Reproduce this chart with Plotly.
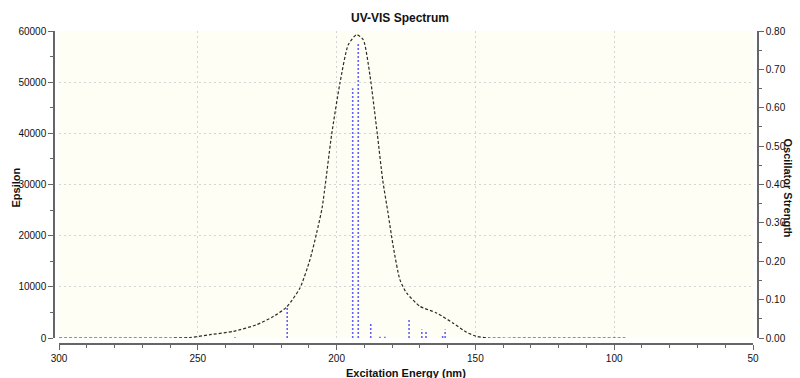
import plotly.graph_objects as go

# Broadened spectrum (wavelength nm, epsilon)
curve_nm = [300, 280, 260, 252.8, 245.6, 237.2, 228.8, 222.8, 218.0, 213.2, 209.6, 207.2,
            205.2, 201.8, 198.8, 195.8, 192.8, 190.4, 188.0, 185.3, 183.4, 181.5, 179.6,
            177.2, 174.8, 170.0, 164.0, 158.0, 153.1, 149.5, 145, 120, 96]
curve_eps = [0, 0, 0, 100, 650, 1300, 2600, 4200, 6050, 9770, 15300, 20500,
             25500, 39700, 49800, 57300, 59270, 58300, 51400, 39700, 30900, 24500, 17900,
             11400, 8800, 6200, 4900, 2900, 1100, 300, 0, 0, 0]

# Individual transitions (wavelength nm, oscillator strength)
bar_nm = [236.6, 217.8, 194.2, 192.2, 187.7, 184.4, 182.6, 173.9, 169.3, 167.8, 161.8, 160.9]
bar_f = [0.002, 0.082, 0.651, 0.771, 0.037, 0.003, 0.003, 0.052, 0.022, 0.019, 0.009, 0.022]

x_ticks = [300, 250, 200, 150, 100, 50]

bx, by = [], []
for n, f in zip(bar_nm, bar_f):
    bx += [n, n, None]
    by += [0, f, None]

fig = go.Figure()
fig.add_trace(go.Scatter(x=bx, y=by, mode="lines", yaxis="y2",
                         line=dict(color="#6262ff", width=1.6, dash="2px,2px"),
                         hoverinfo="skip", showlegend=False))
fig.add_trace(go.Scatter(x=curve_nm, y=curve_eps, mode="lines",
                         line=dict(color="#2a2a2a", width=1.2, dash="3px,2px",
                                   shape="spline", smoothing=0.6),
                         showlegend=False))

font = "Liberation Sans, Arial, sans-serif"
W, H = 800, 378
ml, mr, mt, mb = 54, 42, 31, 34
pw = W - ml - mr
ph = H - mt - mb
off = 5

axis_common = dict(showline=True, linecolor="#666666", linewidth=1.5,
                   ticks="outside", ticklen=5, tickcolor="#666666", tickwidth=1,
                   tickfont=dict(family=font, size=10, color="#111111"),
                   zeroline=False, automargin=False)

grid = dict(showgrid=True, gridcolor="#d4d4d4", griddash="2px,3px", gridwidth=1)

fig.update_layout(
    width=W, height=H,
    margin=dict(l=ml, r=mr, t=mt, b=mb, autoexpand=False),
    paper_bgcolor="white",
    plot_bgcolor="#fffef4",
    title=dict(text="<b>UV-VIS Spectrum</b>", x=0.5, xref="container",
               y=1 - 18 / H, yref="container", yanchor="middle", xanchor="center",
               font=dict(family=font, size=12, color="#111111")),
    xaxis=dict(range=[300, 50], domain=[off / pw, 1 - off / pw],
               anchor="free", position=0,
               tickvals=x_ticks, ticktext=[str(v) for v in x_ticks],
               minor=dict(dtick=10, tick0=0, ticklen=3, ticks="outside",
                          tickcolor="#666666", showgrid=False),
               **grid, **axis_common),
    yaxis=dict(range=[0, 60000], domain=[(off + 1) / ph, 1],
               anchor="free", position=0, dtick=10000, tickformat="d",
               minor=dict(dtick=5000, ticklen=3, ticks="outside",
                          tickcolor="#666666", showgrid=False),
               **grid, **axis_common),
    yaxis2=dict(range=[0, 0.8], overlaying="y", side="right",
                anchor="free", position=1, dtick=0.1, tickformat=".2f",
                showgrid=False,
                minor=dict(dtick=0.05, ticklen=3, ticks="outside",
                           tickcolor="#666666", showgrid=False),
                **axis_common),
    annotations=[
        dict(text="<b>Epsilon</b>", xref="paper", yref="paper", x=0, y=0.5,
             xshift=-39, textangle=-90, showarrow=False,
             xanchor="center", yanchor="middle",
             font=dict(family=font, size=11, color="#111111")),
        dict(text="<b>Oscillator Strength</b>", xref="paper", yref="paper", x=1, y=0.5,
             xshift=30, textangle=90, showarrow=False,
             xanchor="center", yanchor="middle",
             font=dict(family=font, size=11, color="#111111")),
        dict(text="<b>Excitation Energy (nm)</b>", xref="paper", yref="paper", x=0.5, y=0,
             yshift=-29, showarrow=False, xanchor="center", yanchor="middle",
             font=dict(family=font, size=11, color="#111111")),
    ],
)

fig.write_html("out.html", config={"displayModeBar": False},
               post_script="document.body.style.margin='0';")
